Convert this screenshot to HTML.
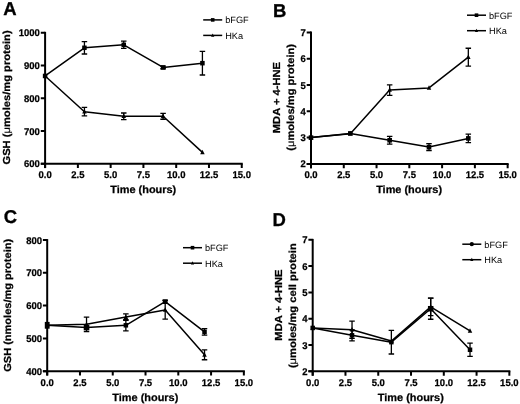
<!DOCTYPE html>
<html><head><meta charset="utf-8"><style>
html,body{margin:0;padding:0;background:#fff;}
svg{display:block;filter:grayscale(1);}
text{font-family:"Liberation Sans", sans-serif;fill:#000;text-rendering:geometricPrecision;}
.L{font-size:18.5px;font-weight:bold;stroke:#000;stroke-width:0.3px;}
.T{font-size:9.7px;font-weight:bold;stroke:#000;stroke-width:0.25px;}
.XT{font-size:10.5px;font-weight:bold;stroke:#000;stroke-width:0.25px;}
.YT{font-size:10.2px;font-weight:bold;stroke:#000;stroke-width:0.25px;}
.mu{font-weight:normal;stroke-width:0.15px;}
.LG{font-size:9.2px;}
.ax{stroke:#000;stroke-width:2.0;fill:none;}
.dl{stroke:#000;stroke-width:1.5;fill:none;stroke-linejoin:round;}
.eb{stroke:#000;stroke-width:1.3;fill:none;}
</style></head><body>
<svg width="520" height="404" viewBox="0 0 520 404">
<rect width="520" height="404" fill="#fff"/>
<text x="3.3" y="15.1" class="L">A</text>
<path d="M45.10 31.80V168.10" class="ax"/>
<path d="M40.80 163.80H242.75" class="ax"/>
<path d="M40.80 163.80H45.10M40.80 131.03H45.10M40.80 98.25H45.10M40.80 65.47H45.10M40.80 32.70H45.10M45.10 163.80V168.10M77.88 163.80V168.10M110.65 163.80V168.10M143.42 163.80V168.10M176.20 163.80V168.10M208.97 163.80V168.10M241.75 163.80V168.10" class="ax"/>
<text transform="translate(39.90 167.30) scale(0.98 1)" class="T" text-anchor="end">600</text>
<text transform="translate(39.90 134.53) scale(0.98 1)" class="T" text-anchor="end">700</text>
<text transform="translate(39.90 101.75) scale(0.98 1)" class="T" text-anchor="end">800</text>
<text transform="translate(39.90 68.97) scale(0.98 1)" class="T" text-anchor="end">900</text>
<text transform="translate(39.90 36.20) scale(0.98 1)" class="T" text-anchor="end">1000</text>
<text transform="translate(45.10 178.00) scale(0.98 1)" class="T" text-anchor="middle">0.0</text>
<text transform="translate(77.88 178.00) scale(0.98 1)" class="T" text-anchor="middle">2.5</text>
<text transform="translate(110.65 178.00) scale(0.98 1)" class="T" text-anchor="middle">5.0</text>
<text transform="translate(143.42 178.00) scale(0.98 1)" class="T" text-anchor="middle">7.5</text>
<text transform="translate(176.20 178.00) scale(0.98 1)" class="T" text-anchor="middle">10.0</text>
<text transform="translate(208.97 178.00) scale(0.98 1)" class="T" text-anchor="middle">12.5</text>
<text transform="translate(241.75 178.00) scale(0.98 1)" class="T" text-anchor="middle">15.0</text>
<text transform="translate(143.22 193.20) scale(1.04 1)" class="XT" text-anchor="middle">Time (hours)</text>
<text transform="translate(9.60 97.45) rotate(-90) scale(1.095 1)" class="YT" text-anchor="middle">GSH (<tspan class="mu">μ</tspan>moles/mg protein)</text>
<path d="M45.10 75.96 L84.43 47.78 L123.76 44.83 L163.09 67.44 L202.42 63.18" class="dl"/>
<path d="M84.43 41.55V54.00M81.68 41.55h5.5M81.68 54.00h5.5M123.76 41.22V48.43M121.01 41.22h5.5M121.01 48.43h5.5M163.09 66.13V68.75M160.34 66.13h5.5M160.34 68.75h5.5M202.42 51.38V74.98M199.67 51.38h5.5M199.67 74.98h5.5" class="eb"/>
<rect x="42.85" y="73.71" width="4.5" height="4.5" fill="#000"/>
<rect x="82.18" y="45.53" width="4.5" height="4.5" fill="#000"/>
<rect x="121.51" y="42.58" width="4.5" height="4.5" fill="#000"/>
<rect x="160.84" y="65.19" width="4.5" height="4.5" fill="#000"/>
<rect x="200.17" y="60.93" width="4.5" height="4.5" fill="#000"/>
<path d="M45.10 75.96 L84.43 111.69 L123.76 116.28 L163.09 116.28 L202.42 152.33" class="dl"/>
<path d="M84.43 107.43V115.95M81.68 107.43h5.5M81.68 115.95h5.5M123.76 113.00V119.55M121.01 113.00h5.5M121.01 119.55h5.5M163.09 113.33V119.23M160.34 113.33h5.5M160.34 119.23h5.5" class="eb"/>
<path d="M45.10 73.26L47.35 77.76L42.85 77.76Z" fill="#000"/>
<path d="M84.43 108.99L86.68 113.49L82.18 113.49Z" fill="#000"/>
<path d="M123.76 113.58L126.01 118.08L121.51 118.08Z" fill="#000"/>
<path d="M163.09 113.58L165.34 118.08L160.84 118.08Z" fill="#000"/>
<path d="M202.42 149.63L204.67 154.13L200.17 154.13Z" fill="#000"/>
<path d="M203.20 19.90h19" class="dl"/>
<rect x="210.90" y="18.10" width="3.6" height="3.6" fill="#000"/>
<text x="225.20" y="23.20" class="LG">bFGF</text>
<path d="M203.20 35.40h19" class="dl"/>
<path d="M212.70 33.48L214.30 36.68L211.10 36.68Z" fill="#000"/>
<text x="225.20" y="38.70" class="LG">HKa</text>
<text x="273.1" y="16.7" class="L">B</text>
<path d="M311.00 31.60V168.20" class="ax"/>
<path d="M306.70 163.90H508.65" class="ax"/>
<path d="M306.70 163.90H311.00M306.70 137.62H311.00M306.70 111.34H311.00M306.70 85.06H311.00M306.70 58.78H311.00M306.70 32.50H311.00M311.00 163.90V168.20M343.77 163.90V168.20M376.55 163.90V168.20M409.32 163.90V168.20M442.10 163.90V168.20M474.88 163.90V168.20M507.65 163.90V168.20" class="ax"/>
<text transform="translate(305.80 167.40) scale(0.98 1)" class="T" text-anchor="end">2</text>
<text transform="translate(305.80 141.12) scale(0.98 1)" class="T" text-anchor="end">3</text>
<text transform="translate(305.80 114.84) scale(0.98 1)" class="T" text-anchor="end">4</text>
<text transform="translate(305.80 88.56) scale(0.98 1)" class="T" text-anchor="end">5</text>
<text transform="translate(305.80 62.28) scale(0.98 1)" class="T" text-anchor="end">6</text>
<text transform="translate(305.80 36.00) scale(0.98 1)" class="T" text-anchor="end">7</text>
<text transform="translate(311.00 178.10) scale(0.98 1)" class="T" text-anchor="middle">0.0</text>
<text transform="translate(343.77 178.10) scale(0.98 1)" class="T" text-anchor="middle">2.5</text>
<text transform="translate(376.55 178.10) scale(0.98 1)" class="T" text-anchor="middle">5.0</text>
<text transform="translate(409.32 178.10) scale(0.98 1)" class="T" text-anchor="middle">7.5</text>
<text transform="translate(442.10 178.10) scale(0.98 1)" class="T" text-anchor="middle">10.0</text>
<text transform="translate(474.88 178.10) scale(0.98 1)" class="T" text-anchor="middle">12.5</text>
<text transform="translate(507.65 178.10) scale(0.98 1)" class="T" text-anchor="middle">15.0</text>
<text transform="translate(409.12 193.30) scale(1.04 1)" class="XT" text-anchor="middle">Time (hours)</text>
<text transform="translate(280.00 97.60) rotate(-90) scale(1.095 1)" class="YT" text-anchor="middle">MDA + 4-HNE</text>
<text transform="translate(294.20 97.35) rotate(-90) scale(1.095 1)" class="YT" text-anchor="middle">(<tspan class="mu">μ</tspan>moles/mg protein)</text>
<path d="M311.00 137.62 L350.33 133.42 L389.66 140.25 L428.99 147.08 L468.32 138.41" class="dl"/>
<path d="M389.66 136.31V144.19M386.91 136.31h5.5M386.91 144.19h5.5M428.99 143.66V150.50M426.24 143.66h5.5M426.24 150.50h5.5M468.32 134.20V142.61M465.57 134.20h5.5M465.57 142.61h5.5" class="eb"/>
<rect x="308.70" y="135.32" width="4.6" height="4.6" fill="#000"/>
<rect x="348.03" y="131.12" width="4.6" height="4.6" fill="#000"/>
<rect x="387.36" y="137.95" width="4.6" height="4.6" fill="#000"/>
<rect x="426.69" y="144.78" width="4.6" height="4.6" fill="#000"/>
<rect x="466.02" y="136.11" width="4.6" height="4.6" fill="#000"/>
<path d="M311.00 137.62 L350.33 133.68 L389.66 90.05 L428.99 87.95 L468.32 57.20" class="dl"/>
<path d="M389.66 84.80V95.31M386.91 84.80h5.5M386.91 95.31h5.5M468.32 48.27V66.14M465.57 48.27h5.5M465.57 66.14h5.5" class="eb"/>
<path d="M311.00 134.92L313.25 139.42L308.75 139.42Z" fill="#000"/>
<path d="M350.33 130.98L352.58 135.48L348.08 135.48Z" fill="#000"/>
<path d="M389.66 87.35L391.91 91.85L387.41 91.85Z" fill="#000"/>
<path d="M428.99 85.25L431.24 89.75L426.74 89.75Z" fill="#000"/>
<path d="M468.32 54.50L470.57 59.00L466.07 59.00Z" fill="#000"/>
<path d="M467.00 15.20h19" class="dl"/>
<rect x="474.70" y="13.40" width="3.6" height="3.6" fill="#000"/>
<text x="489.00" y="18.50" class="LG">bFGF</text>
<path d="M467.00 30.70h19" class="dl"/>
<path d="M476.50 28.78L478.10 31.98L474.90 31.98Z" fill="#000"/>
<text x="489.00" y="34.00" class="LG">HKa</text>
<text x="3.7" y="222.9" class="L">C</text>
<path d="M47.20 239.10V375.55" class="ax"/>
<path d="M42.90 371.25H244.85" class="ax"/>
<path d="M42.90 371.25H47.20M42.90 338.44H47.20M42.90 305.62H47.20M42.90 272.81H47.20M42.90 240.00H47.20M47.20 371.25V375.55M79.97 371.25V375.55M112.75 371.25V375.55M145.52 371.25V375.55M178.30 371.25V375.55M211.07 371.25V375.55M243.85 371.25V375.55" class="ax"/>
<text transform="translate(42.00 374.75) scale(0.98 1)" class="T" text-anchor="end">400</text>
<text transform="translate(42.00 341.94) scale(0.98 1)" class="T" text-anchor="end">500</text>
<text transform="translate(42.00 309.12) scale(0.98 1)" class="T" text-anchor="end">600</text>
<text transform="translate(42.00 276.31) scale(0.98 1)" class="T" text-anchor="end">700</text>
<text transform="translate(42.00 243.50) scale(0.98 1)" class="T" text-anchor="end">800</text>
<text transform="translate(47.20 386.15) scale(0.98 1)" class="T" text-anchor="middle">0.0</text>
<text transform="translate(79.97 386.15) scale(0.98 1)" class="T" text-anchor="middle">2.5</text>
<text transform="translate(112.75 386.15) scale(0.98 1)" class="T" text-anchor="middle">5.0</text>
<text transform="translate(145.52 386.15) scale(0.98 1)" class="T" text-anchor="middle">7.5</text>
<text transform="translate(178.30 386.15) scale(0.98 1)" class="T" text-anchor="middle">10.0</text>
<text transform="translate(211.07 386.15) scale(0.98 1)" class="T" text-anchor="middle">12.5</text>
<text transform="translate(243.85 386.15) scale(0.98 1)" class="T" text-anchor="middle">15.0</text>
<text transform="translate(145.32 400.65) scale(1.04 1)" class="XT" text-anchor="middle">Time (hours)</text>
<text transform="translate(11.20 305.35) rotate(-90) scale(1.082 1)" class="YT" text-anchor="middle">GSH (nmoles/mg protein)</text>
<path d="M47.20 325.31 L86.53 327.61 L125.86 325.31 L165.19 301.69 L204.52 331.88" class="dl"/>
<path d="M125.86 319.73V330.89M123.11 319.73h5.5M123.11 330.89h5.5M165.19 300.05V303.33M162.44 300.05h5.5M162.44 303.33h5.5M204.52 328.59V335.16M201.77 328.59h5.5M201.77 335.16h5.5" class="eb"/>
<rect x="44.80" y="321.91" width="4.8" height="6.8" fill="#000"/>
<rect x="83.73" y="324.81" width="5.6" height="5.6" fill="#000"/>
<rect x="123.61" y="323.06" width="4.5" height="4.5" fill="#000"/>
<rect x="162.94" y="299.44" width="4.5" height="4.5" fill="#000"/>
<rect x="202.27" y="329.62" width="4.5" height="4.5" fill="#000"/>
<path d="M47.20 325.31 L86.53 324.33 L125.86 317.11 L165.19 309.89 L204.52 354.84" class="dl"/>
<path d="M86.53 317.11V331.55M83.78 317.11h5.5M83.78 331.55h5.5M125.86 313.83V320.39M123.11 313.83h5.5M123.11 320.39h5.5M165.19 300.70V319.08M162.44 300.70h5.5M162.44 319.08h5.5M204.52 349.92V359.77M201.77 349.92h5.5M201.77 359.77h5.5" class="eb"/>
<path d="M47.20 322.61L49.45 327.11L44.95 327.11Z" fill="#000"/>
<path d="M86.53 321.63L88.78 326.13L84.28 326.13Z" fill="#000"/>
<path d="M125.86 314.41L128.11 318.91L123.61 318.91Z" fill="#000"/>
<path d="M165.19 307.19L167.44 311.69L162.94 311.69Z" fill="#000"/>
<path d="M204.52 352.14L206.77 356.64L202.27 356.64Z" fill="#000"/>
<path d="M183.00 247.70h19" class="dl"/>
<rect x="190.70" y="245.90" width="3.6" height="3.6" fill="#000"/>
<text x="205.00" y="251.00" class="LG">bFGF</text>
<path d="M183.00 263.20h19" class="dl"/>
<path d="M192.50 261.28L194.10 264.48L190.90 264.48Z" fill="#000"/>
<text x="205.00" y="266.50" class="LG">HKa</text>
<text x="272.6" y="225.5" class="L">D</text>
<path d="M312.70 238.90V375.65" class="ax"/>
<path d="M308.40 371.35H510.35" class="ax"/>
<path d="M308.40 371.35H312.70M308.40 345.04H312.70M308.40 318.73H312.70M308.40 292.42H312.70M308.40 266.11H312.70M308.40 239.80H312.70M312.70 371.35V375.65M345.47 371.35V375.65M378.25 371.35V375.65M411.02 371.35V375.65M443.80 371.35V375.65M476.57 371.35V375.65M509.35 371.35V375.65" class="ax"/>
<text transform="translate(307.50 374.85) scale(0.98 1)" class="T" text-anchor="end">2</text>
<text transform="translate(307.50 348.54) scale(0.98 1)" class="T" text-anchor="end">3</text>
<text transform="translate(307.50 322.23) scale(0.98 1)" class="T" text-anchor="end">4</text>
<text transform="translate(307.50 295.92) scale(0.98 1)" class="T" text-anchor="end">5</text>
<text transform="translate(307.50 269.61) scale(0.98 1)" class="T" text-anchor="end">6</text>
<text transform="translate(307.50 243.30) scale(0.98 1)" class="T" text-anchor="end">7</text>
<text transform="translate(312.70 385.85) scale(0.98 1)" class="T" text-anchor="middle">0.0</text>
<text transform="translate(345.47 385.85) scale(0.98 1)" class="T" text-anchor="middle">2.5</text>
<text transform="translate(378.25 385.85) scale(0.98 1)" class="T" text-anchor="middle">5.0</text>
<text transform="translate(411.02 385.85) scale(0.98 1)" class="T" text-anchor="middle">7.5</text>
<text transform="translate(443.80 385.85) scale(0.98 1)" class="T" text-anchor="middle">10.0</text>
<text transform="translate(476.57 385.85) scale(0.98 1)" class="T" text-anchor="middle">12.5</text>
<text transform="translate(509.35 385.85) scale(0.98 1)" class="T" text-anchor="middle">15.0</text>
<text transform="translate(410.82 400.75) scale(1.04 1)" class="XT" text-anchor="middle">Time (hours)</text>
<text transform="translate(281.60 305.05) rotate(-90) scale(1.095 1)" class="YT" text-anchor="middle">MDA + 4-HNE</text>
<text transform="translate(295.60 305.70) rotate(-90) scale(1.095 1)" class="YT" text-anchor="middle">(<tspan class="mu">μ</tspan>moles/mg cell protein</text>
<path d="M312.70 327.94 L352.03 335.31 L391.36 342.15 L430.69 308.73 L470.02 349.78" class="dl"/>
<path d="M352.03 329.78V340.83M349.28 329.78h5.5M349.28 340.83h5.5M391.36 330.31V353.99M388.61 330.31h5.5M388.61 353.99h5.5M430.69 298.21V319.26M427.94 298.21h5.5M427.94 319.26h5.5M470.02 343.20V356.35M467.27 343.20h5.5M467.27 356.35h5.5" class="eb"/>
<rect x="310.45" y="325.69" width="4.5" height="4.5" fill="#000"/>
<rect x="349.78" y="333.06" width="4.5" height="4.5" fill="#000"/>
<rect x="389.11" y="339.90" width="4.5" height="4.5" fill="#000"/>
<rect x="427.94" y="305.98" width="5.5" height="5.5" fill="#000"/>
<rect x="467.77" y="347.53" width="4.5" height="4.5" fill="#000"/>
<path d="M312.70 327.94 L352.03 329.78 L391.36 341.09 L430.69 306.89 L470.02 330.83" class="dl"/>
<path d="M352.03 321.10V338.46M349.28 321.10h5.5M349.28 338.46h5.5M430.69 298.21V315.57M427.94 298.21h5.5M427.94 315.57h5.5" class="eb"/>
<path d="M312.70 325.24L314.95 329.74L310.45 329.74Z" fill="#000"/>
<path d="M352.03 327.08L354.28 331.58L349.78 331.58Z" fill="#000"/>
<path d="M391.36 338.39L393.61 342.89L389.11 342.89Z" fill="#000"/>
<path d="M430.69 304.19L432.94 308.69L428.44 308.69Z" fill="#000"/>
<path d="M470.02 328.13L472.27 332.63L467.77 332.63Z" fill="#000"/>
<path d="M462.30 244.20h19" class="dl"/>
<circle cx="471.80" cy="244.20" r="2.1" fill="#000"/>
<text x="484.30" y="247.50" class="LG">bFGF</text>
<path d="M462.30 259.70h19" class="dl"/>
<path d="M471.80 257.78L473.40 260.98L470.20 260.98Z" fill="#000"/>
<text x="484.30" y="263.00" class="LG">HKa</text>
</svg>
</body></html>
